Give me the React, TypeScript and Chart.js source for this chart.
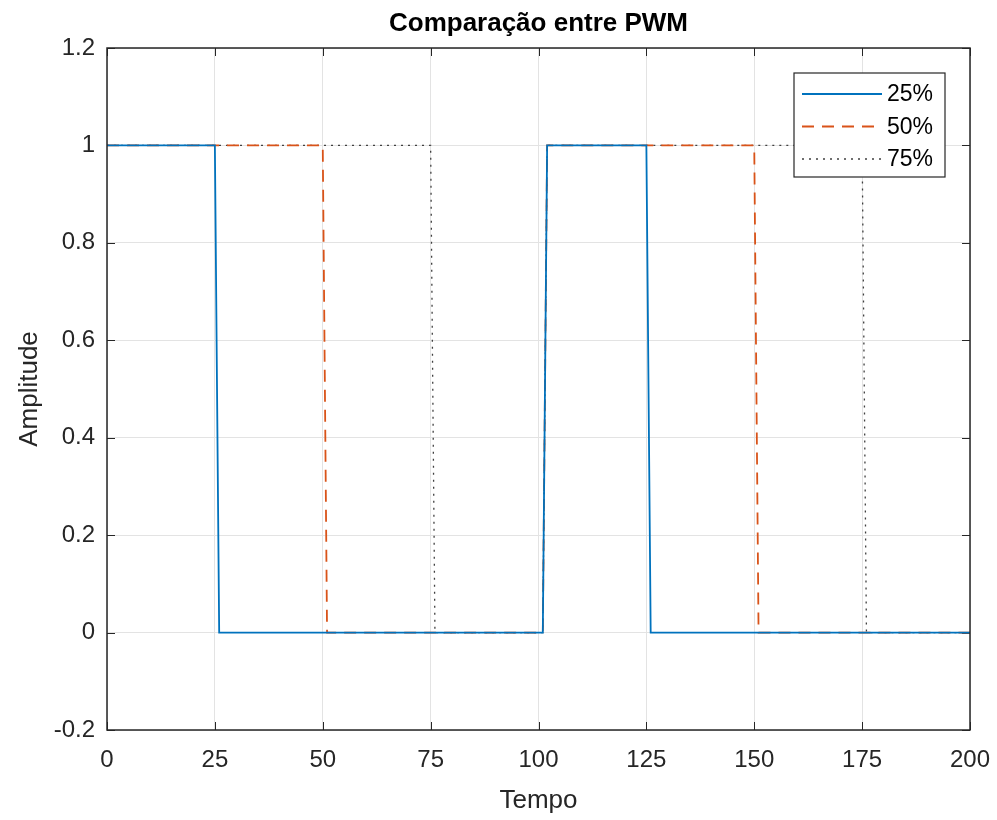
import React, { useEffect, useRef } from 'react';
import { Chart, registerables } from 'chart.js';

Chart.register(...registerables);

// ---- data (corner points of each PWM trace) ----
const time25 = [0, 25, 26, 101, 102, 125, 126, 200];
const pwm25 = [1, 1, 0, 0, 1, 1, 0, 0];
const time50 = [0, 50, 51, 101, 102, 150, 151, 200];
const pwm50 = [1, 1, 0, 0, 1, 1, 0, 0];
const time75 = [0, 75, 76, 101, 102, 175, 176, 200];
const pwm75 = [1, 1, 0, 0, 1, 1, 0, 0];

const seriesLabels = ['25%', '50%', '75%'];
const xMin = 0, xMax = 200, xStep = 25;
const yMin = -0.2, yMax = 1.2, yStep = 0.2;

const titleText = 'Comparação entre PWM';
const xTitle = 'Tempo';
const yTitle = 'Amplitude';

const FONT = "'Liberation Sans', Arial, Helvetica, sans-serif";
const AXIS_COLOR = '#262626';
const GRID_COLOR = '#e3e3e3';

const toPoints = (xs: number[], ys: number[]) => xs.map((x, i) => ({ x, y: ys[i] }));

const framePlugin = {
  id: 'matlabFrame',
  beforeDatasetsDraw(chart: any) {
    const { ctx, chartArea, scales } = chart;
    const { left, right, top, bottom } = chartArea;
    const tl = 8;
    ctx.save();
    ctx.strokeStyle = AXIS_COLOR;
    ctx.lineWidth = 1;
    ctx.beginPath();
    scales.x.ticks.forEach((t: any) => {
      const px = Math.round(scales.x.getPixelForValue(t.value)) + 0.5;
      ctx.moveTo(px, bottom); ctx.lineTo(px, bottom - tl);
      ctx.moveTo(px, top); ctx.lineTo(px, top + tl);
    });
    scales.y.ticks.forEach((t: any) => {
      const py = Math.round(scales.y.getPixelForValue(t.value)) + 0.5;
      ctx.moveTo(left, py); ctx.lineTo(left + tl, py);
      ctx.moveTo(right, py); ctx.lineTo(right - tl, py);
    });
    ctx.stroke();
    ctx.restore();
  },
  afterDatasetsDraw(chart: any) {
    const { ctx, chartArea } = chart;
    const { left, right, top, bottom } = chartArea;
    ctx.save();
    ctx.strokeStyle = AXIS_COLOR;
    ctx.lineWidth = 1.5;
    ctx.strokeRect(left, top, right - left, bottom - top);
    ctx.restore();
  },
  afterDraw(chart: any) {
    const { ctx, chartArea } = chart;
    const boxRight = chartArea.right - 25;
    const boxTop = chartArea.top + 25;
    const boxW = 151;
    const rowH = 32.5;
    const boxH = 104;
    const boxLeft = boxRight - boxW;
    ctx.save();
    ctx.fillStyle = '#ffffff';
    ctx.fillRect(boxLeft, boxTop, boxW, boxH);
    ctx.strokeStyle = AXIS_COLOR;
    ctx.lineWidth = 1.2;
    ctx.strokeRect(boxLeft, boxTop, boxW, boxH);
    chart.data.datasets.forEach((ds: any, i: number) => {
      const cy = boxTop + 21 + i * rowH;
      ctx.save();
      ctx.strokeStyle = ds.borderColor;
      ctx.lineWidth = ds.borderWidth;
      ctx.setLineDash(ds.borderDash || []);
      ctx.beginPath();
      ctx.moveTo(boxLeft + 8, cy);
      ctx.lineTo(boxLeft + 88, cy);
      ctx.stroke();
      ctx.restore();
      ctx.fillStyle = '#000000';
      ctx.font = `23px ${FONT}`;
      ctx.textBaseline = 'middle';
      ctx.textAlign = 'left';
      ctx.fillText(ds.label, boxLeft + 93, cy + 1);
    });
    ctx.restore();
  },
};

export default function App() {
  const canvasRef = useRef<HTMLCanvasElement | null>(null);

  useEffect(() => {
    if (!canvasRef.current) return;
    const chart = new Chart(canvasRef.current, {
      type: 'line',
      data: {
        datasets: [
          {
            label: seriesLabels[0],
            data: toPoints(time25, pwm25),
            borderColor: '#0072BD',
            borderWidth: 1.8,
            pointRadius: 0,
            tension: 0,
            fill: false,
          },
          {
            label: seriesLabels[1],
            data: toPoints(time50, pwm50),
            borderColor: '#D95319',
            borderWidth: 1.8,
            borderDash: [12, 8],
            pointRadius: 0,
            tension: 0,
            fill: false,
          },
          {
            label: seriesLabels[2],
            data: toPoints(time75, pwm75),
            borderColor: '#404040',
            borderWidth: 1.3,
            borderDash: [2, 5],
            pointRadius: 0,
            tension: 0,
            fill: false,
          },
        ],
      },
      options: {
        responsive: false,
        animation: false,
        layout: { padding: { left: 0, right: 27, top: 0, bottom: 0 } },
        plugins: {
          legend: { display: false },
          tooltip: { enabled: false },
          title: {
            display: true,
            text: titleText,
            fullSize: false,
            color: '#000000',
            font: { family: FONT, size: 26, weight: 'bold', lineHeight: 1.2 },
            padding: { top: 8, bottom: 8.8 },
          },
        },
        scales: {
          x: {
            type: 'linear',
            min: xMin,
            max: xMax,
            afterFit: (s: any) => { s.height = 90; s.paddingLeft = 0; s.paddingRight = 0; },
            ticks: {
              stepSize: xStep,
              color: AXIS_COLOR,
              font: { family: FONT, size: 24 },
              padding: 16,
              maxRotation: 0,
            },
            grid: { color: GRID_COLOR, drawTicks: false, lineWidth: 1 },
            border: { display: false },
            title: {
              display: true,
              text: xTitle,
              color: AXIS_COLOR,
              font: { family: FONT, size: 26, lineHeight: 1.2 },
              padding: { top: 0, bottom: 4 },
            },
          },
          y: {
            type: 'linear',
            min: yMin,
            max: yMax,
            afterFit: (s: any) => { s.width = 107; s.paddingTop = 0; s.paddingBottom = 0; },
            ticks: {
              stepSize: yStep,
              color: AXIS_COLOR,
              font: { family: FONT, size: 24 },
              padding: 12,
              callback: (v: any) => Number(Number(v).toFixed(1)).toString(),
            },
            grid: { color: GRID_COLOR, drawTicks: false, lineWidth: 1 },
            border: { display: false },
            title: {
              display: true,
              text: yTitle,
              color: AXIS_COLOR,
              font: { family: FONT, size: 26, lineHeight: 1.2 },
              padding: { top: 14, bottom: 0 },
            },
          },
        },
      },
      plugins: [framePlugin],
    });
    return () => chart.destroy();
  }, []);

  return (
    <div style={{ position: 'absolute', left: 0, top: 0, width: 997, height: 820, background: '#ffffff' }}>
      <canvas ref={canvasRef} width={997} height={820} />
    </div>
  );
}
